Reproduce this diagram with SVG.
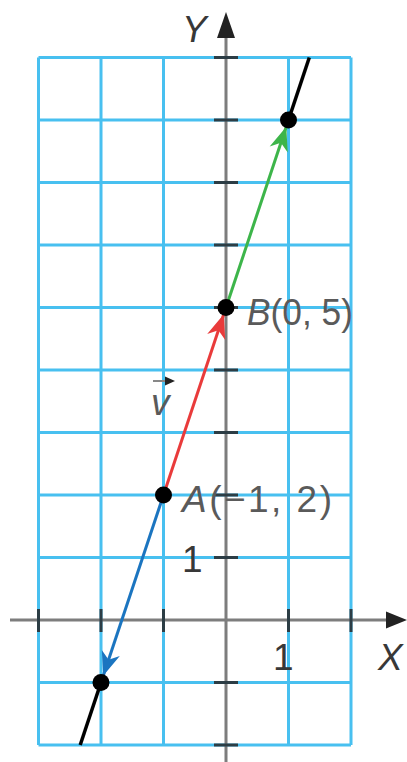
<svg xmlns="http://www.w3.org/2000/svg" width="407" height="762" viewBox="0 0 407 762">
<defs>
<style>
.grid line{stroke:#48c0f0;stroke-width:3}
.axis{stroke:#7d7d7d;stroke-width:3}
.tick{stroke:#2c3d45;stroke-width:3}
.lbl{font-family:"Liberation Sans",Arial,sans-serif;font-size:37px;fill:#5a5a5a}
.it{font-style:italic}
.dark{fill:#383838}
.vec{stroke-width:3;fill:none}
.dot{fill:#000}
</style>
<marker id="hr" markerUnits="userSpaceOnUse" viewBox="-30 -12 40 24" markerWidth="40" markerHeight="24" refX="7" refY="0" orient="auto"><path d="M0,0 L-24,-9.5 L-17,0 L-24,9.5 Z" fill="#e93b3b"/></marker>
<marker id="hg" markerUnits="userSpaceOnUse" viewBox="-30 -12 40 24" markerWidth="40" markerHeight="24" refX="7" refY="0" orient="auto"><path d="M0,0 L-24,-9.5 L-17,0 L-24,9.5 Z" fill="#3db54a"/></marker>
<marker id="hb" markerUnits="userSpaceOnUse" viewBox="-30 -12 40 24" markerWidth="40" markerHeight="24" refX="7" refY="0" orient="auto"><path d="M0,0 L-24,-9.5 L-17,0 L-24,9.5 Z" fill="#1b75c0"/></marker>
</defs>
<rect width="407" height="762" fill="#fff"/>
<g id="grid" class="grid">
<line x1="38.5" y1="57.5" x2="38.5" y2="745"/>
<line x1="101" y1="57.5" x2="101" y2="745"/>
<line x1="163.5" y1="57.5" x2="163.5" y2="745"/>
<line x1="288.5" y1="57.5" x2="288.5" y2="745"/>
<line x1="351" y1="57.5" x2="351" y2="745"/>
<line x1="38.5" y1="57.5" x2="351" y2="57.5"/>
<line x1="38.5" y1="120" x2="351" y2="120"/>
<line x1="38.5" y1="182.5" x2="351" y2="182.5"/>
<line x1="38.5" y1="245" x2="351" y2="245"/>
<line x1="38.5" y1="307.5" x2="351" y2="307.5"/>
<line x1="38.5" y1="370" x2="351" y2="370"/>
<line x1="38.5" y1="432.5" x2="351" y2="432.5"/>
<line x1="38.5" y1="495" x2="351" y2="495"/>
<line x1="38.5" y1="557.5" x2="351" y2="557.5"/>
<line x1="38.5" y1="682.5" x2="351" y2="682.5"/>
<line x1="38.5" y1="745" x2="351" y2="745"/>
</g>
<g id="axes">
<line class="axis" x1="10" y1="620" x2="392" y2="620"/>
<line class="axis" x1="226" y1="762" x2="226" y2="32"/>
<path d="M407,620 L386,611.5 L386,628.5 Z" fill="#222"/>
<path d="M226,12 L217,38 L235,38 Z" fill="#222"/>
<g class="tick">
<line x1="38.5" y1="609" x2="38.5" y2="632"/>
<line x1="101" y1="609" x2="101" y2="632"/>
<line x1="163.5" y1="609" x2="163.5" y2="632"/>
<line x1="288.5" y1="609" x2="288.5" y2="632"/>
<line x1="351" y1="609" x2="351" y2="632"/>
<line x1="214" y1="57.5" x2="238" y2="57.5"/>
<line x1="214" y1="120" x2="238" y2="120"/>
<line x1="214" y1="182.5" x2="238" y2="182.5"/>
<line x1="214" y1="245" x2="238" y2="245"/>
<line x1="214" y1="307.5" x2="238" y2="307.5"/>
<line x1="214" y1="370" x2="238" y2="370"/>
<line x1="214" y1="432.5" x2="238" y2="432.5"/>
<line x1="214" y1="495" x2="238" y2="495"/>
<line x1="214" y1="557.5" x2="238" y2="557.5"/>
<line x1="214" y1="682.5" x2="238" y2="682.5"/>
<line x1="214" y1="745" x2="238" y2="745"/>
</g>
</g>
<g id="connectors">
<line x1="80.2" y1="745" x2="101" y2="682.5" stroke="#000" stroke-width="3.5"/>
<line x1="288.5" y1="120" x2="309.3" y2="57.5" stroke="#000" stroke-width="3.5"/>
<line class="vec" x1="163.5" y1="495" x2="226" y2="307.5" stroke="#e93b3b" marker-end="url(#hr)"/>
<line class="vec" x1="226" y1="307.5" x2="288.5" y2="120" stroke="#3db54a" marker-end="url(#hg)"/>
<line class="vec" x1="163.5" y1="495" x2="101" y2="682.5" stroke="#1b75c0" marker-end="url(#hb)"/>
</g>
<g id="pointA"><circle class="dot" cx="163.5" cy="495" r="8.5"/></g>
<g id="pointB"><circle class="dot" cx="226" cy="307.5" r="8.5"/></g>
<g id="pointP"><circle class="dot" cx="101" cy="682.5" r="8.5"/></g>
<g id="pointQ"><circle class="dot" cx="288.5" cy="120" r="8.5"/></g>
<g id="labels">
<text class="lbl it dark" x="182" y="42">Y</text>
<text class="lbl it dark" x="378" y="670">X</text>
<text class="lbl dark" x="273" y="670">1</text>
<text class="lbl dark" x="182" y="572">1</text>
<text class="lbl" x="182" y="512" textLength="150" lengthAdjust="spacing"><tspan class="it">A</tspan>(−1, 2)</text>
<text class="lbl" x="247" y="325" textLength="106" lengthAdjust="spacingAndGlyphs"><tspan class="it">B</tspan>(0, 5)</text>
<text class="lbl it" x="151" y="415">v</text>
<line x1="153" y1="381" x2="168" y2="381" stroke="#888" stroke-width="2"/>
<path d="M175,381 L165,376.5 L165,385.5 Z" fill="#222"/>
</g>
</svg>
